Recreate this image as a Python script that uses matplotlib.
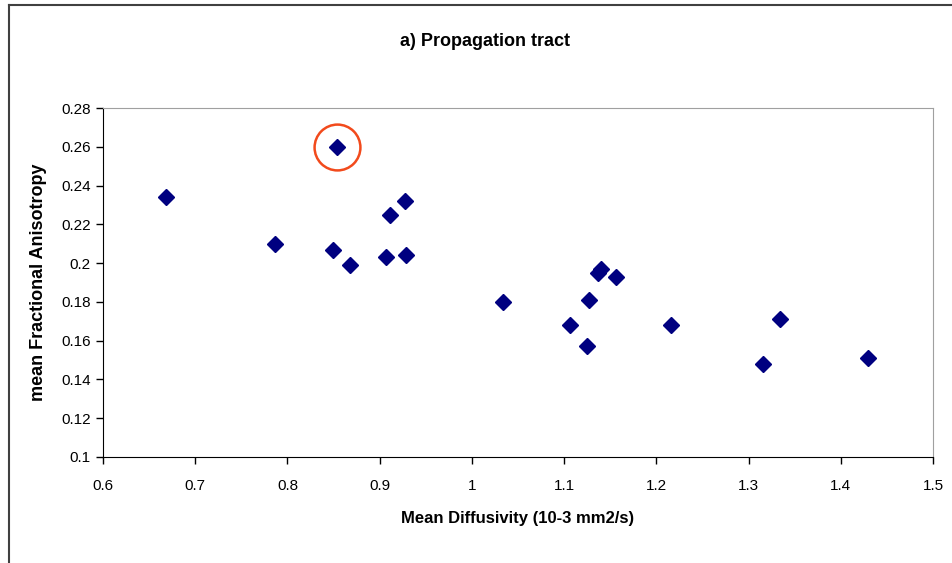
import numpy as np
import matplotlib
matplotlib.use('Agg')
import matplotlib.pyplot as plt
from matplotlib.lines import Line2D

# values
md = [0.668, 0.787, 0.849, 0.854, 0.868, 0.907, 0.911, 0.927, 0.929, 1.034,
      1.106, 1.125, 1.127, 1.137, 1.140, 1.156, 1.216, 1.316, 1.334, 1.429]
fa = [0.234, 0.210, 0.207, 0.260, 0.199, 0.203, 0.225, 0.232, 0.204, 0.180,
      0.168, 0.157, 0.181, 0.195, 0.197, 0.193, 0.168, 0.148, 0.171, 0.151]
highlight = 3  # circled point
xticks = [0.6, 0.7, 0.8, 0.9, 1, 1.1, 1.2, 1.3, 1.4, 1.5]
yticks = [0.1, 0.12, 0.14, 0.16, 0.18, 0.2, 0.22, 0.24, 0.26, 0.28]

plt.rcParams['font.family'] = ['Liberation Sans', 'DejaVu Sans']

fig = plt.figure(figsize=(9.52, 5.63), dpi=100)
ax = fig.add_axes([103/952, 1-457/563, (933-103)/952, (457-108)/563])

ax.plot(md, fa, 'D', color='#000080', markersize=8.5, linestyle='none')
ax.plot(md[highlight], fa[highlight], 'o', markersize=33, mfc='none',
        mec='#f24a1c', mew=1.8)

ax.set_xlim(0.6, 1.5)
ax.set_ylim(0.1, 0.28)
ax.set_xticks(xticks)
ax.set_xticklabels([('%g' % v) for v in xticks])
ax.set_yticks(yticks)
ax.set_yticklabels([('%g' % v) for v in yticks])
ax.tick_params(direction='out', length=5, width=1, labelsize=11, pad=4)
ax.tick_params(axis='x', pad=11)

ax.spines['left'].set_color('black')
ax.spines['bottom'].set_color('black')
ax.spines['top'].set_color('#a0a0a0')
ax.spines['right'].set_color('#a0a0a0')

ax.set_xlabel('Mean Diffusivity (10-3 mm2/s)', fontsize=12, fontweight='bold', labelpad=13)
ax.set_ylabel('mean Fractional Anisotropy', fontsize=13, fontweight='bold', labelpad=10)
fig.text(485/952, 1-42/563, 'a) Propagation tract', ha='center', va='center',
         fontsize=13, fontweight='bold')

# outer chart border
fig.add_artist(Line2D([9/952, 9/952], [0, 1-5/563], color='#404040', lw=1.5))
fig.add_artist(Line2D([9/952, 1], [1-5/563, 1-5/563], color='#404040', lw=1.5))

fig.savefig('out.png', dpi=100)
